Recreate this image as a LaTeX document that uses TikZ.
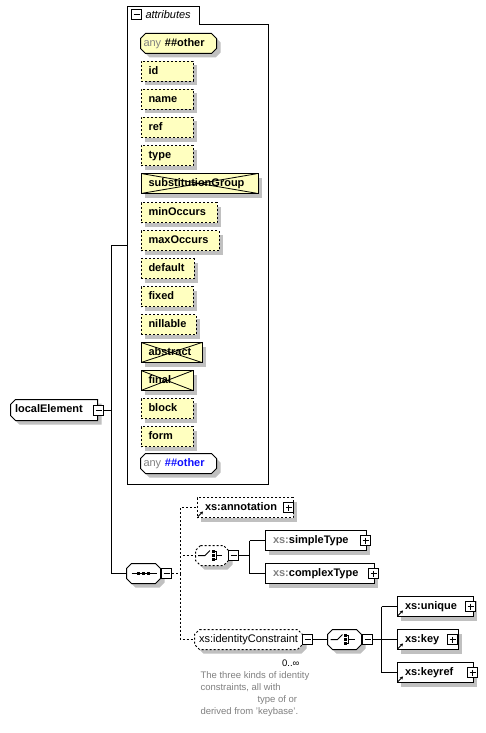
\documentclass[tikz,border=0pt]{standalone}
\usepackage{fontspec}
\setmainfont{Liberation Sans}
\usetikzlibrary{calc,arrows.meta}
\definecolor{attrfill}{HTML}{FFFFC0}
\definecolor{shadowgray}{HTML}{C0C0C0}
\definecolor{greytext}{HTML}{808080}
\definecolor{anyblue}{HTML}{1010FF}
% chamfered outline with its shadow: [style]{x1}{y1}{x2}{y2}{left chamfer}{right chamfer}
\newcommand\chshape[7][]{%
  \fill[shadowgray,shift={(4,4)}] (#2+#6,#3) -- (#4-#7,#3) -- (#4,#3+#7) -- (#4,#5-#7) -- (#4-#7,#5)
    -- (#2+#6,#5) -- (#2,#5-#6) -- (#2,#3+#6) -- cycle;
  \draw[fill=white,#1] (#2+#6,#3) -- (#4-#7,#3) -- (#4,#3+#7) -- (#4,#5-#7) -- (#4-#7,#5)
    -- (#2+#6,#5) -- (#2,#5-#6) -- (#2,#3+#6) -- cycle;}
% rectangular node with its shadow: {style}{name}{x}{centre y}{width}{padding}{text}
\newcommand\rnode[7]{%
  \fill[shadowgray] (#3+4,#4-6) -- (#3+#5+4,#4-6) -- (#3+#5+4,#4+14) -- (#3+4,#4+14) -- cycle;
  \pgfmathsetmacro\rnodetw{#5-2*#6}%
  \node[#1,inner xsep=#6pt,text width=\rnodetw pt] (#2) at (#3,#4) {#7};}
\begin{document}
\begin{tikzpicture}[x=1pt,y=-1pt,line width=1pt,
  lbl/.style={font=\fontsize{11}{13}\selectfont\bfseries},
  dsh/.style={dash pattern=on 2pt off 2pt},
  box/.style={lbl,draw,fill=white,inner ysep=0pt,minimum height=20pt,
    text height=8pt,text depth=2.5pt,align=left,anchor=west},
  attr/.style={box,fill=attrfill,dsh},
  attrx/.style={box,fill=attrfill,path picture={\draw[line width=0.8pt]
    (path picture bounding box.north west) -- (path picture bounding box.south east)
    (path picture bounding box.south west) -- (path picture bounding box.north east);}},
  txt/.style={lbl,inner ysep=0pt,text height=8pt,text depth=2.5pt,align=left},
  elem/.style={box},
  hold/.style={inner sep=0pt,minimum width=#1},
  minusbox/.style={draw,fill=white,minimum size=10pt,inner sep=0pt,
    path picture={\draw[line width=1pt] ([xshift=2pt]path picture bounding box.west) -- ([xshift=-2pt]path picture bounding box.east);}},
  plusbox/.style={draw,fill=white,minimum size=10pt,inner sep=0pt,
    path picture={\draw[line width=1pt] ([xshift=2pt]path picture bounding box.west) -- ([xshift=-2pt]path picture bounding box.east)
      ([yshift=-2pt]path picture bounding box.north) -- ([yshift=2pt]path picture bounding box.south);}},
  note/.style={font=\fontsize{9.5}{12}\selectfont,text=greytext,align=left,inner sep=0pt},
  seqicon/.pic={\draw (-12,0) -- (13,0);
    \fill (-6.5,-1.5) rectangle ++(3,3); \fill (-1.5,-1.5) rectangle ++(3,3); \fill (3.5,-1.5) rectangle ++(3,3);},
  choiceicon/.pic={\draw (-14,0) -- (-7,0) -- (-2,-5);
    \fill (-0.5,-5.5) rectangle ++(3,3); \fill (-0.5,-1.5) rectangle ++(3,3); \fill (-0.5,2.5) rectangle ++(3,3);
    \draw (2.5,-4) -- (4,-4) -- (4,4) -- (2.5,4) (4,0) -- (10,0);},
  refarrow/.pic={\draw[line width=0.9pt,-{Stealth[length=3pt,width=3.5pt]}] (1.5,-1.5) -- (6.5,-6.5);}
]
\fill[white] (0,0) rectangle (485,733);
\useasboundingbox (0,0) rectangle (485,733);

% ---------- attributes group ----------
\node[anchor=north west,minimum width=141pt,minimum height=460pt,inner sep=0pt] (attrs) at (127.5,24.5) {};
\draw (127.5,6.5) -- (199.5,6.5) -- (199.5,24.5) -- (268.5,24.5) -- (268.5,484.5) -- (127.5,484.5) -- cycle;
\node[minusbox] (attm) at (136.5,14.5) {};
\node[anchor=west,inner sep=0pt,font=\fontsize{11}{13}\selectfont\itshape] (attlbl) at (145,15) {attributes};

\chshape[fill=attrfill]{140.5}{33.5}{216.5}{53.5}{5}{5}
\node[txt,inner xsep=3pt,text width=70pt] (any1) at (178.5,43.5) {{\mdseries\color{greytext}any} \#\#other};
\rnode{attr}{id}{140.5}{71.5}{52}{7.5}{id}
\rnode{attr}{name}{140.5}{99.5}{52}{7.5}{name}
\rnode{attr}{ref}{140.5}{127.5}{52}{7.5}{ref}
\rnode{attr}{type}{140.5}{155.5}{52}{7.5}{type}
\rnode{attrx}{subst}{140.5}{183.5}{117}{7.5}{substitutionGroup}
\rnode{attr}{minocc}{140.5}{212.5}{76}{7.5}{minOccurs}
\rnode{attr}{maxocc}{140.5}{240.5}{78}{7.5}{maxOccurs}
\rnode{attr}{default}{140.5}{268.5}{53}{7.5}{default}
\rnode{attr}{fixed}{140.5}{296.5}{52}{7.5}{fixed}
\rnode{attr}{nillable}{140.5}{324.5}{55}{7.5}{nillable}
\rnode{attrx}{abstract}{140.5}{352.5}{61}{7.5}{abstract}
\rnode{attrx}{final}{140.5}{380.5}{52}{7.5}{final}
\rnode{attr}{block}{140.5}{408.5}{52}{7.5}{block}
\rnode{attr}{form}{140.5}{436.5}{52}{7.5}{form}
\chshape{140.5}{453.5}{216.5}{473.5}{5}{5}
\node[txt,inner xsep=3pt,text width=70pt] (any2) at (178.5,463.5) {{\mdseries\color{greytext}any} {\color{anyblue}\#\#other}};

% ---------- root element ----------
\chshape{10.5}{399.5}{97.5}{420.5}{5}{0}
\node[txt,inner xsep=4pt,text width=78pt] (le) at (54,410) {localElement};
\node[minusbox] (lem) at (98.5,410.5) {};

% ---------- sequence ----------
\chshape{126.5}{563.5}{160.5}{583.5}{5}{5}
\node[hold=34pt,minimum height=20pt] (seq) at (143.5,573.5) {};
\pic at (seq.center) {seqicon};
\node[minusbox] (seqm) at (166.5,573.5) {};

% ---------- annotation ----------
\rnode{elem,dsh}{ann}{196.5}{507.5}{96}{8}{xs:annotation}
\pic at (ann.south west) {refarrow};
\node[plusbox] (annp) at (288.5,507.5) {};

% ---------- choice 1 ----------
\chshape[dsh]{195.5}{545.5}{228.5}{565.5}{5}{5}
\node[hold=33pt,minimum height=20pt] (ch1) at (212,555.5) {};
\pic at (ch1.center) {choiceicon};
\node[minusbox] (ch1m) at (233.5,555.5) {};

\rnode{elem}{st}{264.5}{540.5}{101}{8}{{\color{greytext}xs:}simpleType}
\node[plusbox] (stp) at (365.5,540.5) {};
\rnode{elem}{ct}{264.5}{573.5}{109}{8}{{\color{greytext}xs:}complexType}
\node[plusbox] (ctp) at (373.5,573.5) {};

% ---------- identity constraint ----------
\chshape[dsh]{194.5}{629.5}{302.5}{649.5}{5}{5}
\node[txt,font=\fontsize{11}{13}\selectfont,inner xsep=4.5pt,text width=99pt] (ic) at (248.5,639.5) {xs:identityConstraint};
\node[minusbox] (icm) at (307.5,639.5) {};
\node[anchor=east,inner sep=0pt,font=\fontsize{9.5}{12}\selectfont] (occ) at (300,663) {0..\char"221E};
\node[note,anchor=north west] (doc) at (200,671.5) {The three kinds of identity\\constraints, all with\\\hspace*{57pt}type of or\\derived from 'keybase'.};

% ---------- choice 2 ----------
\chshape{327.5}{629.5}{361.5}{649.5}{5}{5}
\node[hold=34pt,minimum height=20pt] (ch2) at (344.5,639.5) {};
\pic at (ch2.center) {choiceicon};
\node[minusbox] (ch2m) at (367.5,639.5) {};

\rnode{elem}{uniq}{396.5}{606.5}{76}{8}{xs:unique}
\pic at (uniq.south west) {refarrow};
\node[plusbox] (uniqp) at (470.5,606.5) {};
\rnode{elem}{key}{396.5}{639.5}{61}{8}{xs:key}
\pic at (key.south west) {refarrow};
\node[plusbox] (keyp) at (452.5,639.5) {};
\rnode{elem}{keyref}{396.5}{672.5}{76}{8}{xs:keyref}
\pic at (keyref.south west) {refarrow};
\node[plusbox] (keyrefp) at (472.5,672.5) {};

% ---------- connectors ----------
\coordinate (bus) at (111.5,0);
\coordinate (attin) at ($(attrs.north west)+(0,221)$);
\coordinate (dbus) at (180.5,0);
\coordinate (sbus) at (249.5,0);
\coordinate (kbus) at (381.5,0);

\draw (lem.east) -- (lem.east -| bus) |- (attin);
\draw (lem.east -| bus) |- (seq.west);

\draw[dsh] (seqm.east) -| (ann.west -| dbus) -- (ann.west);
\draw[dsh] (seqm.east -| dbus) |- (ch1.west);
\draw[dsh] (seqm.east -| dbus) |- (ic.west);

\draw (ch1m.east) -- (ch1m.east -| sbus);
\draw (st.west -| sbus) -- (st.west);
\draw (st.west -| sbus) |- (ct.west);

\draw (icm.east) -- (ch2.west);

\draw (ch2m.east) -- (ch2m.east -| kbus);
\draw (uniq.west -| kbus) -- (uniq.west);
\draw (uniq.west -| kbus) |- (key.west);
\draw (uniq.west -| kbus) |- (keyref.west);
\end{tikzpicture}
\end{document}
